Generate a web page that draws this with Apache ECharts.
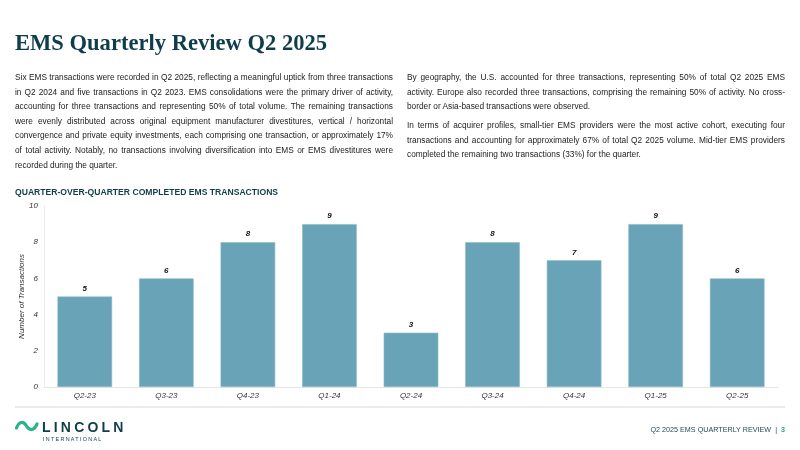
<!DOCTYPE html>
<html>
<head>
<meta charset="utf-8">
<script src="https://cdn.jsdelivr.net/npm/echarts@6/dist/echarts.min.js"></script>
<style>
  html, body { margin: 0; padding: 0; background: #fff; }
  #page { position: relative; width: 800px; height: 450px; overflow: hidden; font-family: "Liberation Sans", Arial, sans-serif; }
  #chart { position: absolute; left: 0; top: 0; width: 800px; height: 450px; }
  .txt { position: absolute; z-index: 2; }
  .title { left: 15px; top: 29px; font-family: "Liberation Serif", "DejaVu Serif", serif; font-weight: bold; font-size: 24px; color: #0f3d4c; white-space: nowrap; transform: scaleX(0.94); transform-origin: left top; }
  .col { top: 70px; width: 378px; font-size: 8.3px; line-height: 14.6px; color: #222; }
  .col div { text-align: justify; text-align-last: justify; white-space: nowrap; }
  .col div.last { text-align-last: left; }
  .col .gap { height: 4.5px; }
  .head { left: 15px; top: 187px; font-size: 8.6px; font-weight: bold; color: #0f3d4c; white-space: nowrap; }
  .rule { position: absolute; left: 15px; top: 406px; width: 770px; height: 2px; background: #ebebeb; z-index: 2; }
  .logo { left: 13px; top: 417px; }
  .foot { right: 15px; top: 425px; font-size: 7.2px; color: #1d4a5a; white-space: nowrap; }
</style>
</head>
<body>
<div id="page">
  <div id="chart"></div>
  <div class="txt title">EMS Quarterly Review Q2 2025</div>
  <div class="txt col" style="left:15px">
    <div>Six EMS transactions were recorded in Q2 2025, reflecting a meaningful uptick from three transactions</div>
    <div>in Q2 2024 and five transactions in Q2 2023. EMS consolidations were the primary driver of activity,</div>
    <div>accounting for three transactions and representing 50% of total volume. The remaining transactions</div>
    <div>were evenly distributed across original equipment manufacturer divestitures, vertical / horizontal</div>
    <div>convergence and private equity investments, each comprising one transaction, or approximately 17%</div>
    <div>of total activity. Notably, no transactions involving diversification into EMS or EMS divestitures were</div>
    <div class="last">recorded during the quarter.</div>
  </div>
  <div class="txt col" style="left:407px">
    <div>By geography, the U.S. accounted for three transactions, representing 50% of total Q2 2025 EMS</div>
    <div>activity. Europe also recorded three transactions, comprising the remaining 50% of activity. No cross-</div>
    <div class="last">border or Asia-based transactions were observed.</div>
    <div class="gap"></div>
    <div>In terms of acquirer profiles, small-tier EMS providers were the most active cohort, executing four</div>
    <div>transactions and accounting for approximately 67% of total Q2 2025 volume. Mid-tier EMS providers</div>
    <div class="last">completed the remaining two transactions (33%) for the quarter.</div>
  </div>
  <div class="txt head">QUARTER-OVER-QUARTER COMPLETED EMS TRANSACTIONS</div>
  <div class="rule"></div>
  <div class="txt logo">
    <svg width="130" height="28" viewBox="0 0 130 28">
      <path d="M3.5 11 C6 4, 10.5 4, 13.5 9 C16.5 14, 21 14, 24 7" fill="none" stroke="#2bb38a" stroke-width="3.2" stroke-linecap="round"/>
      <text x="29" y="14.5" font-family="Liberation Sans, Arial, sans-serif" font-weight="bold" font-size="14" letter-spacing="3.2" fill="#0f3d4c">LINCOLN</text>
      <text x="30" y="24" font-family="Liberation Sans, Arial, sans-serif" font-size="5.4" letter-spacing="1.3" fill="#0f3d4c">INTERNATIONAL</text>
    </svg>
  </div>
  <div class="txt foot">Q2 2025 EMS QUARTERLY REVIEW &nbsp;|&nbsp; <b style="color:#2aa58a">3</b></div>
</div>
<script>
var quarters = ['Q2-23', 'Q3-23', 'Q4-23', 'Q1-24', 'Q2-24', 'Q3-24', 'Q4-24', 'Q1-25', 'Q2-25'];
var transactions = [5, 6, 8, 9, 3, 8, 7, 9, 6];
var yMin = 0;
var yMax = 10;
var yStep = 2;

var chart = echarts.init(document.getElementById('chart'), null, { renderer: 'canvas' });
chart.setOption({
  animation: false,
  grid: {
    left: 44,
    right: 22,
    top: 206,
    bottom: 63
  },
  xAxis: {
    type: 'category',
    data: quarters,
    axisLine: { lineStyle: { color: '#e4e4e4', width: 1 } },
    axisTick: { show: false },
    axisLabel: {
      color: '#333',
      fontSize: 8,
      fontStyle: 'italic',
      fontFamily: 'Liberation Sans',
      margin: 5
    }
  },
  yAxis: {
    type: 'value',
    min: yMin,
    max: yMax,
    interval: yStep,
    name: 'Number of Transactions',
    nameLocation: 'middle',
    nameGap: 18,
    nameMoveOverlap: false,
    nameRotate: 90,
    nameTextStyle: {
      color: '#333',
      fontSize: 8,
      fontStyle: 'italic',
      fontFamily: 'Liberation Sans'
    },
    axisLine: { show: true, lineStyle: { color: '#ececec', width: 1 } },
    axisTick: { show: false },
    splitLine: { show: false },
    axisLabel: {
      color: '#333',
      fontSize: 8,
      fontStyle: 'italic',
      fontFamily: 'Liberation Sans',
      margin: 6
    }
  },
  series: [{
    type: 'bar',
    data: transactions,
    barWidth: '67%',
    itemStyle: {
      color: '#68a3b7',
      borderColor: '#8dbccb',
      borderWidth: 0.6
    },
    label: {
      show: true,
      position: 'top',
      distance: 4,
      color: '#111',
      fontSize: 8,
      fontWeight: 'bold',
      fontStyle: 'italic',
      fontFamily: 'Liberation Sans'
    }
  }]
});
</script>
</body>
</html>
